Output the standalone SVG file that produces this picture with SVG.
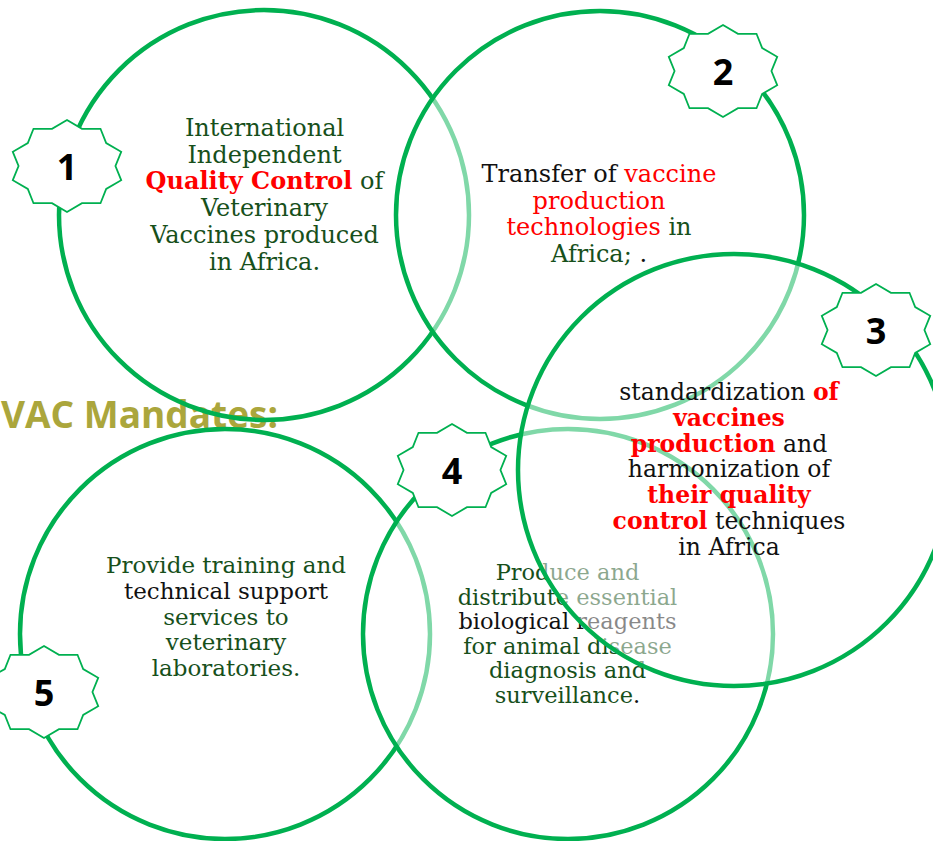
<svg xmlns="http://www.w3.org/2000/svg" xmlns:xlink="http://www.w3.org/1999/xlink" width="933" height="841" viewBox="0 0 933 841">
  <style>
    .ring { stroke: #00B050; stroke-width: 4.5; }
    .ring-open { fill: none; }
    .ring-veil { fill: #FFFFFF; fill-opacity: 0.5; }
    .badge { fill: #FFFFFF; stroke: #00B050; stroke-width: 1.8; stroke-linejoin: miter; }
    .num { font-family: "Open Sans", "Liberation Sans", sans-serif; font-weight: 700; font-size: 36px; fill: #000000; text-anchor: middle; }
    .body { font-family: "DejaVu Serif", "Liberation Serif", serif; text-anchor: middle; fill: #17501B; }
    .blk { fill: #111111; }
    .red { fill: #FF0000; }
    .redb { fill: #FF0000; font-weight: 700; }
    .title { font-family: "Open Sans", "Liberation Sans", sans-serif; font-weight: 700; font-size: 38px; fill: #ABA63C; }
  </style>
  <defs>
    <!-- ten-point badge, centred on the origin -->
    <path id="badge10" class="badge" d="M0,-46 L14.97,-37.19 L33.5,-37.21 L39.2,-22.98 L54.21,-14.21 L48.45,0 L54.21,14.21 L39.2,22.98 L33.5,37.21 L14.97,37.19 L0,46 L-14.97,37.19 L-33.5,37.21 L-39.2,22.98 L-54.21,14.21 L-48.45,0 L-54.21,-14.21 L-39.2,-22.98 L-33.5,-37.21 L-14.97,-37.19 Z"/>
  </defs>

  <rect width="933" height="841" fill="#FFFFFF"/>

  <!-- heading, flush with the left edge -->
  <text class="title" x="1" y="428" textLength="277" lengthAdjust="spacingAndGlyphs">VAC Mandates:</text>

  <g id="connectors"/>

  <!-- 1: quality control -->
  <g id="node-1">
    <circle class="ring ring-open" cx="264" cy="215" r="205"/>
    <g class="body" font-size="24">
      <text x="264.5" y="136">International</text>
      <text x="264.5" y="162.7">Independent</text>
      <text x="264.5" y="189.4"><tspan class="redb">Quality Control</tspan> of</text>
      <text x="264.5" y="216.1">Veterinary</text>
      <text x="264.5" y="242.8">Vaccines produced</text>
      <text x="264.5" y="269.5">in Africa.</text>
    </g>
    <use xlink:href="#badge10" href="#badge10" x="67" y="166"/>
    <text class="num" x="67" y="180">1</text>
  </g>

  <!-- 2: technology transfer -->
  <g id="node-2">
    <circle class="ring ring-veil" cx="600" cy="215" r="204"/>
    <g class="body" font-size="24">
      <text x="599" y="182"><tspan class="blk">Transfer of </tspan><tspan class="red">vaccine</tspan></text>
      <text x="599" y="208.5" class="red">production</text>
      <text x="599" y="235"><tspan class="red">technologies</tspan> in</text>
      <text x="599" y="261.5">Africa; <tspan class="blk">.</tspan></text>
    </g>
    <use xlink:href="#badge10" href="#badge10" x="723" y="71"/>
    <text class="num" x="723" y="85">2</text>
  </g>

  <!-- 5: training and support -->
  <g id="node-5">
    <circle class="ring ring-veil" cx="225" cy="634" r="205"/>
    <g class="body" font-size="23">
      <text x="226" y="573">Provide training and</text>
      <text x="226" y="599" class="blk">technical support</text>
      <text x="226" y="624.5">services to</text>
      <text x="226" y="650">veterinary</text>
      <text x="226" y="676">laboratories.</text>
    </g>
    <use xlink:href="#badge10" href="#badge10" x="44" y="692"/>
    <text class="num" x="44" y="706">5</text>
  </g>

  <!-- 4: reagents -->
  <g id="node-4">
    <circle class="ring ring-veil" cx="568" cy="634" r="205"/>
    <g class="body" font-size="22.5">
      <text x="567.5" y="580">Produce and</text>
      <text x="567.5" y="604.5">distribute essential</text>
      <text x="567.5" y="629" class="blk">biological reagents</text>
      <text x="567.5" y="653.5">for animal disease</text>
      <text x="567.5" y="678">diagnosis and</text>
      <text x="567.5" y="703">surveillance<tspan class="blk">.</tspan></text>
    </g>
    <use xlink:href="#badge10" href="#badge10" x="452" y="470"/>
    <text class="num" x="452" y="484">4</text>
  </g>

  <!-- 3: standardization and harmonization -->
  <g id="node-3">
    <circle class="ring ring-veil" cx="734" cy="470" r="216"/>
    <g class="body blk" font-size="23.5">
      <text x="729" y="400" class="blk">standardization <tspan class="redb">of</tspan></text>
      <text x="729" y="425.8" class="redb">vaccines</text>
      <text x="729" y="451.6" class="blk"><tspan class="redb">production</tspan> and</text>
      <text x="729" y="477.4" class="blk">harmonization of</text>
      <text x="729" y="503.2" class="redb">their quality</text>
      <text x="729" y="529" class="blk"><tspan class="redb">control</tspan> techniques</text>
      <text x="729" y="554.8" class="blk">in Africa</text>
    </g>
    <use xlink:href="#badge10" href="#badge10" x="876" y="330"/>
    <text class="num" x="876" y="344">3</text>
  </g>
</svg>
